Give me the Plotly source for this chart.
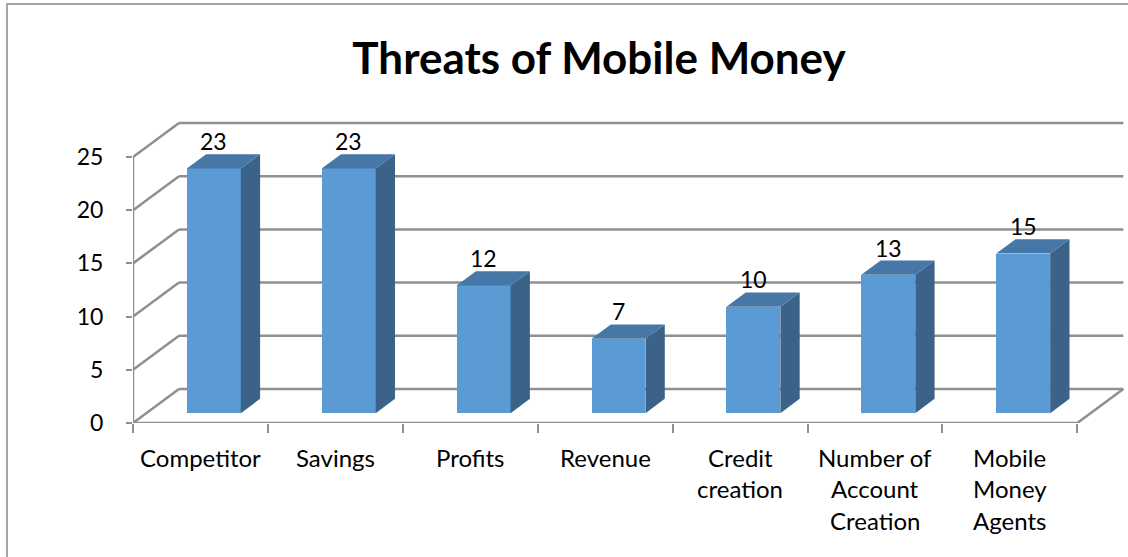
import plotly.graph_objects as go

# ---- data ----
categories = ["Competitor", "Savings", "Profits", "Revenue", "Credit<br>creation",
              "Number of<br>Account<br>Creation", "Mobile<br>Money<br>Agents"]
values = [23, 23, 12, 7, 10, 13, 15]
y_ticks = [0, 5, 10, 15, 20, 25]
title_text = "Threats of Mobile Money"

# ---- geometry / style ----
W, H = 1128, 557
FONT = "Lato"
PX_X = 134.9          # pixels per category
PX_Y = 10.64          # pixels per unit value
DX = 46 / PX_X        # depth offset (x, data units)
DY = 34 / PX_Y        # depth offset (y, data units)
F0, F1 = 0.29, 0.71   # bar depth span (fraction of depth)
BW = 0.40             # bar width (category units)
GRID = "#8f8f8f"
FRONT, TOP, SIDE = "#5B9BD5", "#4677A6", "#3B6389"

left_px, bottom_px = 133, 423
n = len(categories)
x0, x1 = -0.5, n - 0.5 + DX + 0.02
plot_w = (x1 - x0) * PX_X
m_l = left_px
m_r = W - m_l - plot_w
m_b = H - bottom_px
m_t = 100
y1 = (H - m_b - m_t) / PX_Y

fig = go.Figure()

# front faces
xs = [i + F0 * DX for i in range(n)]
fig.add_trace(go.Bar(x=xs, y=values, base=[F0 * DY] * n, width=BW,
                     marker=dict(color=FRONT, line=dict(width=0)), hoverinfo="skip"))

# side & top faces
dd_x, dd_y = (F1 - F0) * DX, (F1 - F0) * DY
sx, sy, tx, ty = [], [], [], []
for i, v in enumerate(values):
    xl = xs[i] - BW / 2
    xr = xs[i] + BW / 2
    b = F0 * DY
    sx += [xr, xr, xr + dd_x, xr + dd_x, xr, None]
    sy += [b, b + v, b + v + dd_y, b + dd_y, b, None]
    tx += [xl, xr, xr + dd_x, xl + dd_x, xl, None]
    ty += [b + v, b + v, b + v + dd_y, b + v + dd_y, b + v, None]
fig.add_trace(go.Scatter(x=sx, y=sy, fill="toself", fillcolor=SIDE, mode="lines",
                         line=dict(width=0, color=SIDE), hoverinfo="skip"))
fig.add_trace(go.Scatter(x=tx, y=ty, fill="toself", fillcolor=TOP, mode="lines",
                         line=dict(width=0, color=TOP), hoverinfo="skip"))

# walls / grid
shapes = []
line = dict(color=GRID, width=2.5)
for t in y_ticks:
    shapes.append(dict(type="line", xref="x", yref="y", x0=-0.5 + DX, x1=n - 0.5 + DX,
                       y0=t + DY, y1=t + DY, line=line, layer="below"))
    shapes.append(dict(type="line", xref="x", yref="y", x0=-0.5, x1=-0.5 + DX,
                       y0=t, y1=t + DY, line=line, layer="below"))
shapes.append(dict(type="line", xref="x", yref="y", x0=-0.5, x1=-0.5, y0=0, y1=max(y_ticks),
                   line=line, layer="below"))
shapes.append(dict(type="line", xref="x", yref="y", x0=-0.5, x1=n - 0.5, y0=0, y1=0,
                   line=line, layer="below"))
shapes.append(dict(type="line", xref="x", yref="y", x0=n - 0.5, x1=n - 0.5 + DX, y0=0, y1=DY,
                   line=line, layer="below"))
# chart border (left & top visible)
pw = plot_w
ph = H - m_t - m_b
shapes.append(dict(type="rect", xref="paper", yref="paper",
                   x0=(7 - m_l) / pw, x1=(W + 20 - m_l) / pw,
                   y0=(H - m_b - (H + 20)) / ph, y1=(H - m_b - 4) / ph,
                   line=dict(color="#a6a6a6", width=2), fillcolor="rgba(0,0,0,0)", layer="below"))

annotations = []
# value labels
for i, v in enumerate(values):
    annotations.append(dict(x=xs[i], y=v + F1 * DY, xref="x", yref="y", text=str(v),
                            showarrow=False, yanchor="middle", yshift=13,
                            font=dict(family=FONT, size=23, color="black")))
# category labels (one annotation per line)
for i, c in enumerate(categories):
    for k, part in enumerate(c.split("<br>")):
        annotations.append(dict(x=i, y=0, xref="x", yref="y", text=part, showarrow=False,
                                yanchor="middle", yshift=-(34 + 31.5 * k),
                                font=dict(family=FONT, size=24, color="black")))

fig.update_layout(
    width=W, height=H,
    margin=dict(l=m_l, r=m_r, t=m_t, b=m_b, pad=0),
    paper_bgcolor="white", plot_bgcolor="white",
    showlegend=False,
    title=dict(text="<b>" + title_text + "</b>", x=599 / W, xanchor="center",
               y=1 - 59 / H, yanchor="middle", yref="container",
               font=dict(family=FONT, size=44, color="black")),
    xaxis=dict(range=[x0, x1], showgrid=False, zeroline=False, showline=False,
               tickmode="array", tickvals=[i - 0.5 for i in range(n + 1)],
               ticks="outside", ticklen=9, tickwidth=2, tickcolor=GRID,
               showticklabels=False, fixedrange=True),
    yaxis=dict(range=[0, y1], showgrid=False, zeroline=False, showline=False,
               tickmode="array", tickvals=y_ticks, ticktext=[str(t) for t in y_ticks],
               ticks="outside", ticklen=6, tickwidth=2, tickcolor=GRID,
               ticklabelstandoff=18,
               tickfont=dict(family=FONT, size=23, color="black"), fixedrange=True),
    shapes=shapes, annotations=annotations, bargap=0,
)

fig.write_html("out.html")
